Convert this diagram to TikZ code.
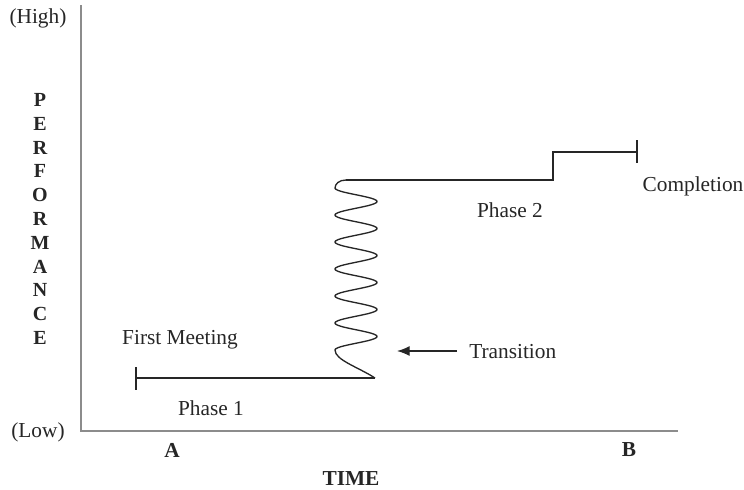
\documentclass[tikz,border=0pt]{standalone}
\usepackage{fontspec}
\setmainfont{Liberation Serif}
\usetikzlibrary{arrows.meta}
\begin{document}
\begin{tikzpicture}[x=0.75pt,y=-0.75pt,
  axis/.style={draw=black!45,line width=1.5pt},
  trace/.style={draw=black!85,line width=1pt},
  lbl/.style={font=\fontsize{16}{18}\selectfont,inner sep=0pt,text=black!85},
  bold/.style={font=\fontsize{16}{18}\selectfont\bfseries,inner sep=0pt,text=black!85}]
\useasboundingbox (0,0) rectangle (744,490);

% axes
\coordinate (top) at (81,5);
\coordinate (origin) at (81,431);
\coordinate (xend) at (678,431);
\draw[axis] (top) -- (origin) -- (xend);

% axis labels
\node[lbl] (high) at (38,18) {(High)};
\node[lbl] (low) at (38,432) {(Low)};
\node[bold,align=center,font=\fontsize{15}{17.85}\selectfont\bfseries] (perf) at (40,219)
  {P\\E\\R\\F\\O\\R\\M\\A\\N\\C\\E};
\node[bold] (a) at (172,450) {A};
\node[bold] (b) at (629,450) {B};
\node[bold] (time) at (351,479) {TIME};

% phase 1
\coordinate (p1s) at (136,378);
\coordinate (p1e) at (375,378);
\draw[trace] (136,367) -- (136,390);
\draw[trace] (p1s) -- (p1e);

% transition wave
\coordinate (wbot) at (335,350);
\coordinate (wtop) at (335,188);
\coordinate (p2s) at (346,180);
\draw[trace] (p1e) .. controls (358,367) and (335,360) .. (wbot);
\draw[trace] plot[domain=0:6,samples=241,smooth] ({356-21*cos(360*\x)},{188+27*\x});
\draw[trace] (wtop) .. controls (335,184) and (339,180) .. (p2s);

% phase 2 and completion step
\coordinate (p2e) at (553,180);
\coordinate (s1) at (553,152);
\coordinate (s2) at (637,152);
\draw[trace] (p2s) -- (p2e) -- (s1) -- (s2);
\draw[trace] (637,140) -- (637,163);

% labels
\node[lbl] (first) at (180,340) {First Meeting};
\node[lbl] (ph1) at (211,408) {Phase 1};
\node[lbl] (ph2) at (510,210) {Phase 2};
\node[lbl] (comp) at (693,186) {Completion};
\node[lbl,anchor=west] (trans) at (469,352) {Transition};
\coordinate (arrtip) at (397,351);
\draw[trace,-{Latex[length=9.5pt,width=7.5pt]}] ([xshift=-9pt]trans.west |- arrtip) -- (arrtip);
\end{tikzpicture}
\end{document}
